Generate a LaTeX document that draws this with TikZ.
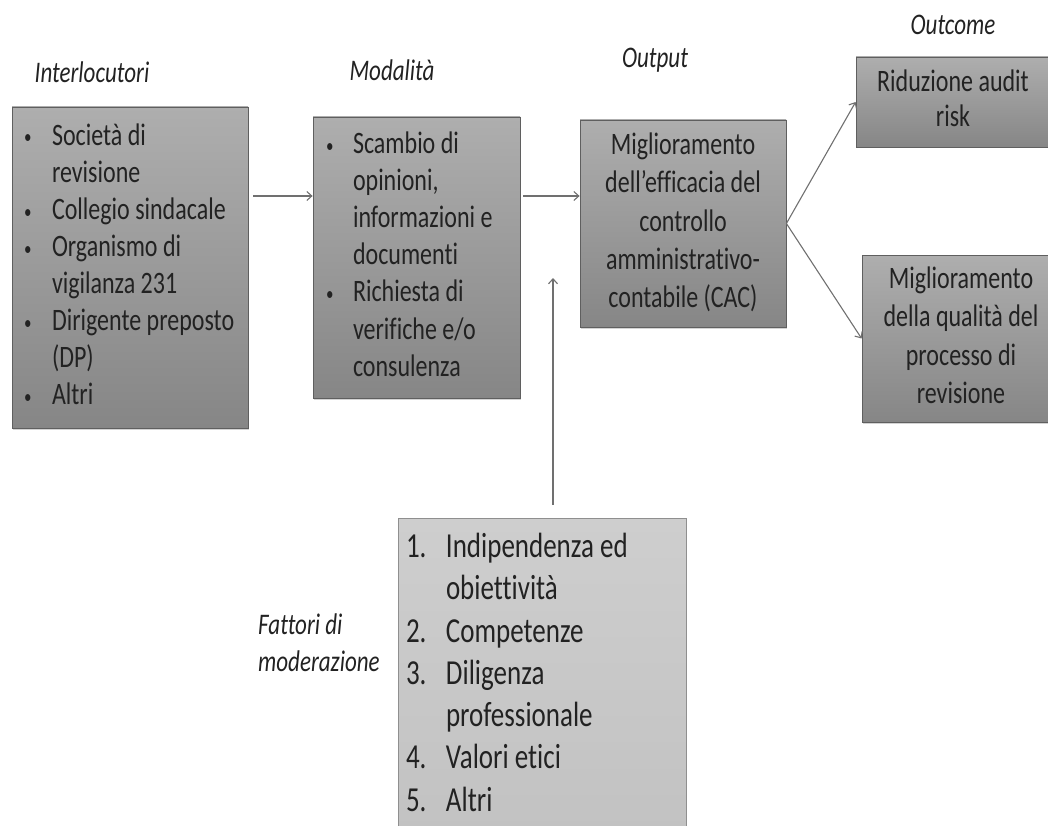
\documentclass[tikz,border=0pt]{standalone}
\usepackage{fontspec}
\setmainfont{Carlito}[Ligatures={TeX,NoCommon}]
\usepackage{graphicx}
\usetikzlibrary{arrows.meta, shadows}
\definecolor{boxtop}{RGB}{174,174,174}
\definecolor{boxbottom}{RGB}{134,134,134}
\definecolor{lighttop}{RGB}{206,206,206}
\definecolor{lightbottom}{RGB}{194,194,194}
\definecolor{inkgray}{RGB}{34,34,34}
\definecolor{edgegray}{RGB}{95,95,95}
\definecolor{arrowgray}{RGB}{112,112,112}
\newcommand{\tallbox}[1]{\scalebox{1}[1.3]{#1}}
\newcommand{\blt}{\raisebox{1pt}{\fontsize{15}{15}\selectfont\textbullet}}
\tikzstyle{darkbox} = [rectangle, draw=edgegray, line width=0.8pt, top color=boxtop, bottom color=boxbottom, text=inkgray, inner sep=0pt, drop shadow={shadow xshift=1.2pt, shadow yshift=-1.5pt, opacity=0.35}]
\tikzstyle{lightbox} = [rectangle, draw=edgegray!70, line width=0.6pt, top color=lighttop, bottom color=lightbottom, text=inkgray, inner sep=0pt]
\tikzstyle{heading} = [text=inkgray, inner sep=0pt, font=\fontsize{23}{28.5}\selectfont\itshape]
\tikzstyle{arrow} = [draw=arrowgray, line width=1.1pt, -{Straight Barb[length=5pt, width=9pt]}]

\begin{document}
\begin{tikzpicture}[x=1pt, y=1pt, yscale=-1]
\clip (0, 0) rectangle (1048, 826);

% headings
\node at (92, 72) (hInter) [heading] {\tallbox{Interlocutori}};
\node at (392, 70) (hModa) [heading] {\tallbox{Modalità}};
\node at (655, 60) (hOut) [heading] {\tallbox{Output}};
\node at (953, 25) (hOutcome) [heading] {\tallbox{Outcome}};
\node at (258, 646) (hFatt) [heading, anchor=west] {\tallbox{\begin{tabular}{@{}l@{}}Fattori di\\ moderazione\end{tabular}}};

% boxes
\node at (130, 267.5) (inter) [darkbox, minimum width=236, minimum height=321, font=\fontsize{24}{28.5}\selectfont] {\tallbox{\begin{tabular}{@{}p{28pt}@{}p{184pt}@{}}
\blt & Società di\\ & revisione\\ \blt & Collegio sindacale\\ \blt & Organismo di\\ & vigilanza 231\\ \blt & Dirigente preposto\\ & (DP)\\ \blt & Altri\end{tabular}}};
\node at (416.5, 257.5) (moda) [darkbox, minimum width=207, minimum height=281, font=\fontsize{24}{28.5}\selectfont] {\tallbox{\begin{tabular}{@{}p{27pt}@{}p{154pt}@{}}
\blt & Scambio di\\ & opinioni,\\ & informazioni e\\ & documenti\\ \blt & Richiesta di\\ & verifiche e/o\\ & consulenza\end{tabular}}};
\node at (683, 223.5) (cac) [darkbox, minimum width=206, minimum height=207, font=\fontsize{24}{29.5}\selectfont] {\tallbox{\begin{tabular}{@{}c@{}}
Miglioramento\\ dell’efficacia del\\ controllo\\ amministrativo-\\ contabile (CAC)\end{tabular}}};
\node at (953, 102) (risk) [darkbox, minimum width=194, minimum height=90, font=\fontsize{24}{27}\selectfont] {\tallbox{\begin{tabular}{@{}c@{}}
Riduzione audit\\ risk\end{tabular}}};
\node at (961, 338.5) (quality) [darkbox, minimum width=198, minimum height=167, font=\fontsize{24}{29.5}\selectfont] {\tallbox{\begin{tabular}{@{}c@{}}
Miglioramento\\ della qualità del\\ processo di\\ revisione\end{tabular}}};
\node at (542, 676) (fattori) [lightbox, minimum width=288, minimum height=316, font=\fontsize{27}{32.5}\selectfont] {\tallbox{\begin{tabular}{@{}p{40pt}@{}p{232pt}@{}}
1. & Indipendenza ed\\ & obiettività\\ 2. & Competenze\\ 3. & Diligenza\\ & professionale\\ 4. & Valori etici\\ 5. & Altri\end{tabular}}};

% connectors
\coordinate (rowa) at (0, 196);
\coordinate (tip) at (553, 278);
\draw [arrow, shorten <=5pt] (inter.east |- rowa) -- (moda.west |- rowa);
\draw [arrow, shorten <=3pt] (moda.east |- rowa) -- (cac.west |- rowa);
\draw [arrow, shorten <=13pt] (tip |- fattori.north) -- (tip);
\draw [arrow] (cac.east) -- (risk.west);
\draw [arrow] (cac.east) -- (quality.west);

\end{tikzpicture}
\end{document}
